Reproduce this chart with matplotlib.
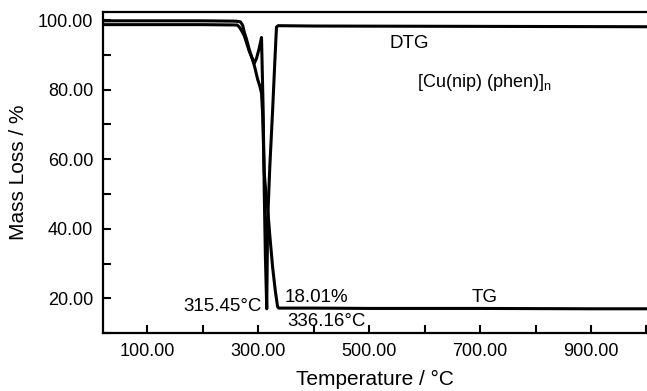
import matplotlib
matplotlib.use("Agg")
import matplotlib.pyplot as plt
from matplotlib.ticker import MultipleLocator, FormatStrFormatter

# TG curve (temperature in C, mass %)
tg_temp = [20, 100, 200, 260, 268, 272, 275, 279, 284, 288, 293, 299, 303, 306,
           308, 311, 314, 317, 321, 326, 331, 335, 337, 400, 500, 700, 900, 1000]
tg_mass = [99.8, 99.8, 99.8, 99.7, 99.5, 98.5, 96.5, 94.5, 91.5, 89.5, 87.0, 83.0, 81.0, 79.0,
           73.0, 56.0, 50.0, 46.0, 38.0, 29.0, 22.0, 17.6, 17.2, 17.2, 17.1, 17.1, 17.0, 17.0]

# DTG curve (same y scale as printed)
dtg_temp = [20, 100, 200, 262, 266, 270, 275, 279, 284, 288, 293, 297, 302, 306,
            309, 311, 313, 315.45, 317, 321, 326, 330, 333, 336, 400, 700, 1000]
dtg_val = [98.7, 98.7, 98.7, 98.6, 98.0, 97.0, 95.5, 93.5, 91.0, 89.5, 87.6, 89.0, 92.0, 95.0,
           74.0, 50.0, 32.0, 17.0, 42.0, 58.0, 74.0, 88.0, 98.0, 98.4, 98.3, 98.2, 98.1]

plt.rcParams['font.family'] = ['Liberation Sans', 'DejaVu Sans']
plt.rcParams['mathtext.fontset'] = 'custom'
plt.rcParams['mathtext.rm'] = 'Liberation Sans'
plt.rcParams['font.size'] = 13.5

fig = plt.figure(figsize=(6.47, 3.91), dpi=100)
ax = fig.add_axes([0.159, 0.148, 0.841, 0.821])

ax.plot(tg_temp, tg_mass, color='black', lw=2.2)
ax.plot(dtg_temp, dtg_val, color='black', lw=2.2)

ax.set_xlim(20, 1001)
ax.set_ylim(10, 102.3)

ax.set_xticks([100, 300, 500, 700, 900])
ax.xaxis.set_minor_locator(MultipleLocator(100))
ax.yaxis.set_major_locator(MultipleLocator(20))
ax.yaxis.set_minor_locator(MultipleLocator(10))
ax.xaxis.set_major_formatter(FormatStrFormatter('%.2f'))
ax.yaxis.set_major_formatter(FormatStrFormatter('%.2f'))
ax.tick_params(which='both', direction='in', length=6, width=1.5, pad=7)
ax.tick_params(which='major', labelsize=13)

ax.spines['right'].set_visible(False)
for s in ['left', 'bottom', 'top']:
    ax.spines[s].set_linewidth(1.6)

ax.set_xlabel('Temperature / °C', fontsize=15, labelpad=7)
ax.set_ylabel('Mass Loss / %', fontsize=15, labelpad=7)

# annotations
ax.text(573, 93.4, 'DTG', ha='center', va='center')
ax.text(587, 82.2, r'[Cu(nip) (phen)]$_\mathregular{n}$', ha='left', va='center', fontsize=13)
ax.text(306, 17.7, '315.45°C', ha='right', va='center')
ax.text(347, 20.3, '18.01%', ha='left', va='center')
ax.text(352, 13.4, '336.16°C', ha='left', va='center')
ax.text(708, 20.3, 'TG', ha='center', va='center')

fig.savefig('out.png', dpi=100)
